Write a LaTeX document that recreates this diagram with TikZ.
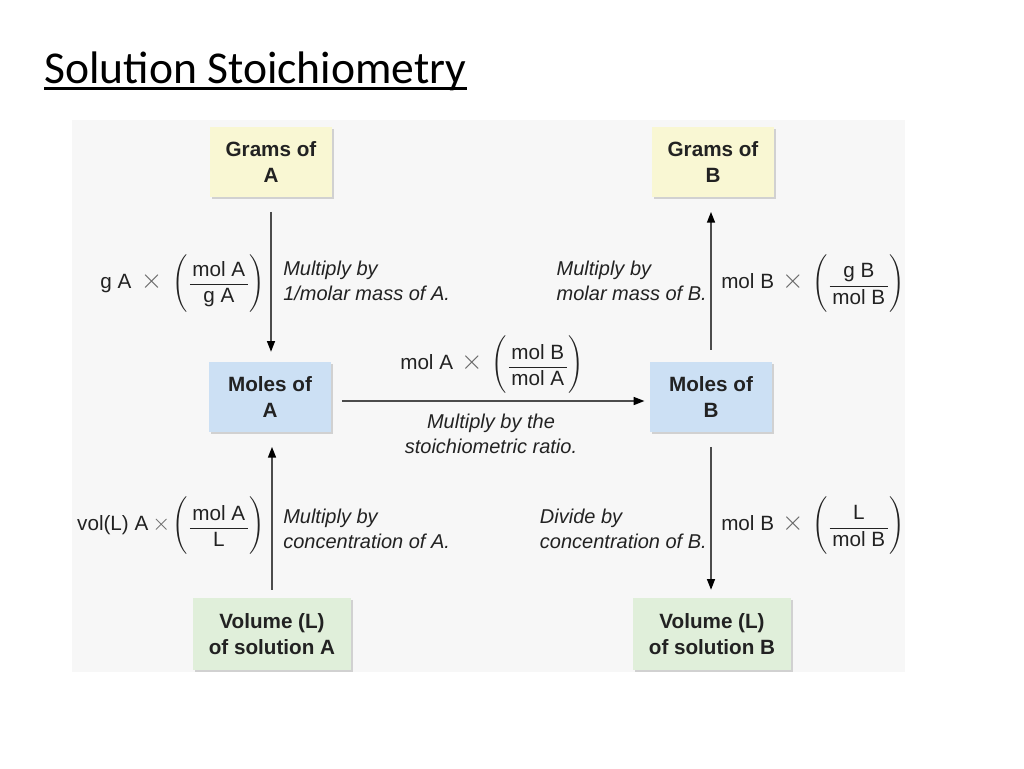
\documentclass[tikz,border=0pt]{standalone}
\usepackage{exscale}
\usepackage{fontspec}
\setmainfont{Liberation Sans}
\newfontfamily\titlefont{Carlito}
\usetikzlibrary{arrows.meta,shadows}
\definecolor{txt}{HTML}{222222}
\definecolor{yel}{HTML}{F9F7D3}
\definecolor{blu}{HTML}{CCE0F4}
\definecolor{grn}{HTML}{E0EFDA}
\definecolor{panel}{HTML}{F7F7F7}
\newcommand\myfrac[2]{$\left(\vcenter to 42pt{\vss\hbox{$\displaystyle\frac{\hbox{\kern2pt #1\kern2pt}}{\hbox{\kern2pt #2\kern2pt}}$}\vss}\right)$}
\newcommand\bigx{{\color{black!60}\fontsize{20}{20}\selectfont$\times$}}
\newcommand\smallx{{\color{black!60}\fontsize{16}{16}\selectfont$\times$}}
\tikzset{
  box/.style={text=txt, align=center, inner sep=0pt, minimum width=91.5pt, minimum height=52.5pt,
    font=\bfseries\fontsize{15.5}{19}\selectfont,
    general shadow={fill=black!18, shadow xshift=1.2pt, shadow yshift=-1.2pt}},
  ybox/.style={box, fill=yel},
  bbox/.style={box, fill=blu},
  gbox/.style={box, fill=grn, minimum width=118.5pt, minimum height=54pt},
  arr/.style={draw=black!70, line width=1pt, -{Triangle[length=8pt,width=6pt,fill=black,color=black]}},
  lbl/.style={text=txt, align=left, inner sep=0pt, font=\itshape\fontsize{15}{18.75}\selectfont},
  frm/.style={text=txt, inner sep=0pt, font=\fontsize{15.5}{18}\selectfont},
}
\begin{document}
\begin{tikzpicture}[x=0.75pt,y=-0.75pt]
\useasboundingbox (0,0) rectangle (1024,768);
\fill[white] (0,0) rectangle (1024,768);
\fill[panel] (72,120) rectangle (905,672);
% title
\node[anchor=base west, inner sep=0pt, font=\titlefont\fontsize{34.2}{41}\selectfont] (title) at (44,83) {Solution Stoichiometry};
\draw[line width=2.2pt] ([yshift=-4.2pt]title.base west) -- ([yshift=-4.2pt]title.base east);
% boxes
\node[ybox] (ga) at (271,162) {Grams of\\A};
\node[ybox] (gb) at (713,162) {Grams of\\B};
\node[bbox] (ma) at (270,397) {Moles of\\A};
\node[bbox] (mb) at (711,397) {Moles of\\B};
\node[gbox] (va) at (272,634) {Volume (L)\\of solution A};
\node[gbox] (vb) at (712,634) {Volume (L)\\of solution B};
% arrows
\draw[arr, shorten <=11pt, shorten >=7.5pt] (ga.south) -- (ga.south |- ma.north);
\draw[arr, shorten <=9pt, shorten >=11pt] (mb.north) -- (mb.north |- gb.south);
\draw[arr, shorten <=8pt, shorten >=4pt] ([yshift=-3pt]ma.east) -- ([yshift=-3pt]mb.west);
\draw[arr, shorten <=6pt, shorten >=11pt] (va.north) -- (va.north |- ma.south);
\draw[arr, shorten <=11pt, shorten >=6pt] (mb.south) -- (mb.south |- vb.north);
% formulas
\node[frm, anchor=east] (f1) at (265,284) {g A\hspace{7pt}\bigx\hspace{8pt}\myfrac{mol A}{g A}};
\node[frm, anchor=west] (f2) at (721,284) {mol B\hspace{6pt}\bigx\hspace{7pt}\myfrac{g B}{mol B}};
\node[frm] (f3) at (492,365) {mol A\hspace{6pt}\bigx\hspace{7pt}\myfrac{mol B}{mol A}};
\node[frm, anchor=east] (f4) at (265,526) {vol(L) A\hspace{3pt}\smallx\hspace{2pt}\myfrac{mol A}{L}};
\node[frm, anchor=west] (f5) at (721,526) {mol B\hspace{6pt}\bigx\hspace{7pt}\myfrac{L}{mol B}};
% labels
\node[lbl, anchor=west] (l1) at (283,281) {Multiply by\\1/molar mass of A.};
\node[lbl, anchor=east] (l2) at (707,281) {Multiply by\\molar mass of B.};
\node[lbl, align=center] (l3) at (491,434) {Multiply by the\\stoichiometric ratio.};
\node[lbl, anchor=west] (l4) at (283,529) {Multiply by\\concentration of A.};
\node[lbl, anchor=east] (l5) at (707,529) {Divide by\\concentration of B.};
\end{tikzpicture}
\end{document}
